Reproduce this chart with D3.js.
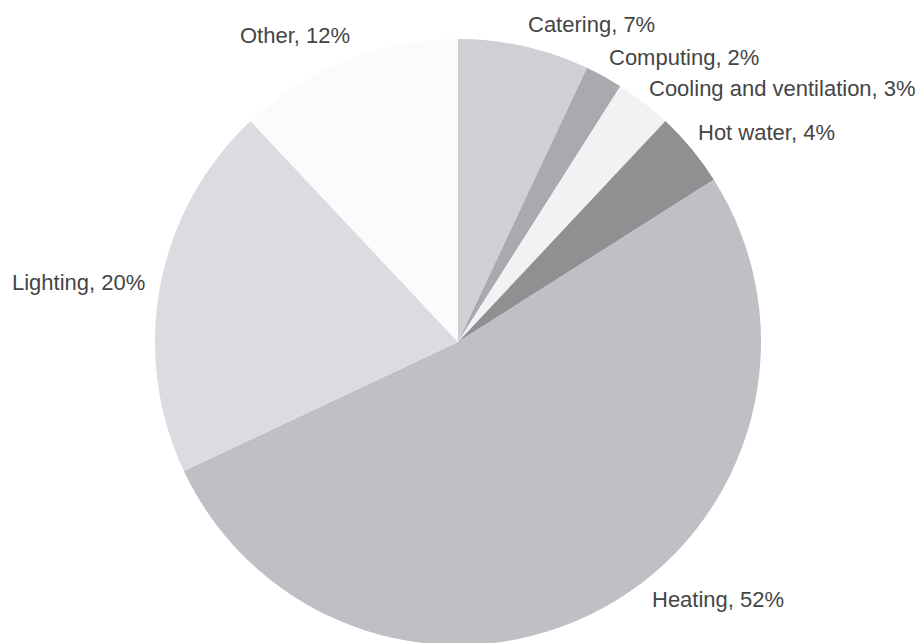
<!DOCTYPE html>
<html>
<head>
<meta charset="utf-8">
<script src="https://cdn.jsdelivr.net/npm/d3@7/dist/d3.min.js"></script>
<style>
  html, body { margin: 0; padding: 0; background: #ffffff; }
  svg { display: block; }
  .label { font-family: "Liberation Sans", Arial, sans-serif; font-size: 22px; fill: #454545; }
</style>
</head>
<body>
<div id="chart"></div>
<script>
// Energy use by end use (percent), clockwise from 12 o'clock
const categories = ["Catering", "Computing", "Cooling and ventilation", "Hot water", "Heating", "Lighting", "Other"];
const shares = [7, 2, 3, 4, 52, 20, 12];
const sliceColors = ["#ced0d6", "#a8aaae", "#f1f2f4", "#8e9092", "#bec0c5", "#dadce1", "#fbfbfb"];

// Label anchors (left edge, baseline) in page pixels
const labelX = [528, 609, 649, 698, 652, 12, 240];
const labelY = [32, 65, 96, 140, 607, 290, 43];

const width = 920, height = 643;
const cx = 458, cy = 342, radius = 303;

const svg = d3.select("#chart").append("svg")
  .attr("width", width)
  .attr("height", height);

const data = categories.map((c, i) => ({ name: c, value: shares[i], color: sliceColors[i], i }));

const pie = d3.pie().value(d => d.value).sort(null);
const arc = d3.arc().innerRadius(0).outerRadius(radius);

const g = svg.append("g").attr("transform", `translate(${cx},${cy})`);

g.selectAll("path")
  .data(pie(data))
  .join("path")
  .attr("d", arc)
  .attr("fill", d => d.data.color);

svg.append("g").selectAll("text")
  .data(data)
  .join("text")
  .attr("class", "label")
  .attr("x", d => labelX[d.i])
  .attr("y", d => labelY[d.i])
  .text(d => `${d.name}, ${d.value}%`);
</script>
</body>
</html>
